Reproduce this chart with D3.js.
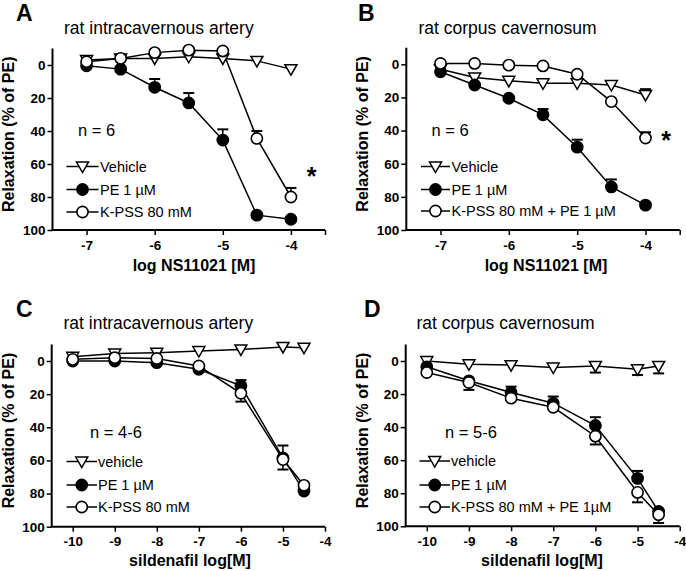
<!DOCTYPE html>
<html><head><meta charset="utf-8">
<script src="https://cdn.jsdelivr.net/npm/d3@7"></script>
<style>
html,body{margin:0;padding:0;background:#fff;}
text{font-family:Arial,"Liberation Sans",Helvetica,sans-serif;}
</style></head>
<body><svg id="c" width="686" height="571"></svg>
<script>
// ---------- data ----------
const nsDoses = [-7, -6.5, -6, -5.5, -5, -4.5, -4];
const sildDoses = [-10, -9, -8, -7, -6, -5, -4.5];
const nsTicks = [-7, -6, -5, -4];
const sildTicks = [-10, -9, -8, -7, -6, -5, -4];
const yTicks = [0, 20, 40, 60, 80, 100];

// Panel A: rat intracavernous artery, NS11021
const aVehicle = [-3, -4, -4, -5, -4, -2.5, 2.5];
const aVehicleErr = [0, 0, 0, 0, 0, 0, 0];
const aPE = [0.5, 2.5, 13.5, 23, 45.5, 91, 93.5];
const aPEErr = [0, 0, 5, 6, 6.5, 0, 0];
const aKPSS = [-2, -4, -7.5, -9, -8.5, 44.5, 80];
const aKPSSErr = [0, 0, 0, 0, 0, 4.5, 5.5];

// Panel B: rat corpus cavernosum, NS11021
const bVehicle = [3, 8, 10, 11.5, 11.5, 12.5, 18.5];
const bVehicleErr = [0, 0, 0, 0, 0, 0, 3.5];
const bPE = [4.5, 12.5, 20.5, 30.5, 50, 74, 85];
const bPEErr = [0, 0, 0, 3.5, 4.5, 4.5, 0];
const bKPSS = [-0.5, -0.5, 0.5, 1, 6, 22.5, 44.5];
const bKPSSErr = [0, 0, 0, 0, 0, 0, 3.5];

// Panel C: rat intracavernous artery, sildenafil
const cVehicle = [-2.5, -4.5, -5, -6, -7, -8.5, -8];
const cVehicleErr = [0, 2, 2, 0, 0, 0, 0];
const cPE = [0, 0, 1, 5, 15, 58.5, 78.5];
const cPEErr = [0, 0, 0, 0, 3.5, 7.5, 0];
const cKPSS = [-1, -2, -1.5, 3, 19.5, 59.5, 75];
const cKPSSErr = [0, 0, 0, 0, 5, 6, 0];

// Panel D: rat corpus cavernosum, sildenafil
const dVehicle = [0, 2, 2.5, 4, 3, 5, 3];
const dVehicleErr = [0, 0, 0, 0, 4, 3.5, 4.5];
const dPE = [3.5, 12, 19, 25.5, 39, 71, 91];
const dPEErr = [0, 0, 3.5, 4, 5, 4.5, 0];
const dKPSS = [7, 13, 22.5, 28, 45.5, 79.5, 93];
const dKPSSErr = [0, 4.5, 0, 0, 5, 6, 5];

const panelLetters = ["A", "B", "C", "D"];
const panelTitles = ["rat intracavernous artery", "rat corpus cavernosum", "rat intracavernous artery", "rat corpus cavernosum"];
const nLabels = ["n = 6", "n = 6", "n = 4-6", "n = 5-6"];
const xTitles = ["log NS11021 [M]", "log NS11021 [M]", "sildenafil log[M]", "sildenafil log[M]"];
const legendA = ["Vehicle", "PE 1 \u00b5M", "K-PSS 80 mM"];
const legendB = ["Vehicle", "PE 1  \u00b5M", "K-PSS 80 mM + PE 1 \u00b5M"];
const legendC = ["vehicle", "PE 1 \u00b5M", "K-PSS 80 mM"];
const legendD = ["vehicle", "PE 1 \u00b5M", "K-PSS 80 mM + PE 1\u00b5M"];
const yTitle = "Relaxation (% of PE)";

// ---------- layout ----------
const panels = [
  {letter:panelLetters[0], title:panelTitles[0], n:nLabels[0], xt:xTitles[0], legend:legendA,
   doses:nsDoses, ticks:nsTicks, xdom:[-7.5,-3.5], endTick:true,
   series:[[aVehicle,aVehicleErr,-1],[aPE,aPEErr,-1],[aKPSS,aKPSSErr,-1]],
   x0:52.5, x1:325, y0:65, y100:230, star:[311.5,173],
   lx:[66.5,98.5], tx:100, ly:[166.5,189.5,212], nx:78, ny:136, tix:64, letx:16, xtc:194},
  {letter:panelLetters[1], title:panelTitles[1], n:nLabels[1], xt:xTitles[1], legend:legendB,
   doses:nsDoses, ticks:nsTicks, xdom:[-7.5,-3.5], endTick:true,
   series:[[bVehicle,bVehicleErr,-1],[bPE,bPEErr,-1],[bKPSS,bKPSSErr,-1]],
   x0:406.3, x1:679.7, y0:64.3, y100:230, star:[666,137],
   lx:[421,450], tx:451.5, ly:[166.5,189.5,211], nx:431.5, ny:136, tix:418.5, letx:358, xtc:546},
  {letter:panelLetters[2], title:panelTitles[2], n:nLabels[2], xt:xTitles[2], legend:legendC,
   doses:sildDoses, ticks:sildTicks, xdom:[-10.5,-4], endTick:false,
   series:[[cVehicle,cVehicleErr,-1],[cPE,cPEErr,-1],[cKPSS,cKPSSErr,1]],
   x0:51.7, x1:325, y0:361, y100:526.7, star:null,
   lx:[66.5,97], tx:98, ly:[461.5,485,507], nx:90, ny:438, tix:63.5, letx:16, xtc:190},
  {letter:panelLetters[3], title:panelTitles[3], n:nLabels[3], xt:xTitles[3], legend:legendD,
   doses:sildDoses, ticks:sildTicks, xdom:[-10.5,-4], endTick:false,
   series:[[dVehicle,dVehicleErr,1],[dPE,dPEErr,-1],[dKPSS,dKPSSErr,1]],
   x0:405.7, x1:679.7, y0:361, y100:526.3, star:null,
   lx:[419.5,450], tx:451, ly:[461,485,507], nx:445, ny:438, tix:416.5, letx:364, xtc:542}
];
const letterY = [21, 21, 317, 317];
const titleY = [33.5, 33.5, 328.5, 328.5];
const xtitleY = [271, 271, 566, 566];

const svg = d3.select("#c");
const styles = ["tri", "filled", "open"];

function drawSymbol(g, type, cx, cy) {
  if (type === "tri") {
    g.append("path")
      .attr("d", `M${cx-6},${cy-4.5}L${cx+6},${cy-4.5}L${cx},${cy+6}Z`)
      .attr("fill", "#fff").attr("stroke", "#000").attr("stroke-width", 1.5);
  } else {
    g.append("circle").attr("cx", cx).attr("cy", cy).attr("r", 5.6)
      .attr("fill", type === "filled" ? "#000" : "#fff")
      .attr("stroke", "#000").attr("stroke-width", 1.6);
  }
}

panels.forEach((p, i) => {
  const g = svg.append("g");
  const x = d3.scaleLinear().domain(p.xdom).range([p.x0, p.x1]);
  const y = d3.scaleLinear().domain([0, 100]).range([p.y0, p.y100]);
  const yTop = y(-10), yBot = y(100);

  // y axis
  const ya = g.append("g").attr("transform", `translate(${p.x0},0)`)
    .call(d3.axisLeft(y).tickValues(yTicks).tickSize(5).tickSizeOuter(0).tickPadding(2));
  ya.select(".domain").attr("d", `M0,${yTop}V${yBot}`).attr("stroke-width", 2);
  ya.selectAll(".tick line").attr("stroke-width", 1.5);
  ya.selectAll("text").attr("font-size", 13.5).attr("font-weight", "bold").attr("fill", "#000")
    .style("font-family", "Arial, 'Liberation Sans', sans-serif");

  // x axis
  const tv = p.endTick ? p.ticks.concat([p.xdom[1]]) : p.ticks;
  const xa = g.append("g").attr("transform", `translate(0,${yBot})`)
    .call(d3.axisBottom(x).tickValues(tv).tickSize(5).tickSizeOuter(0).tickPadding(5)
      .tickFormat(d => p.ticks.includes(d) ? d3.format("d")(d) : ""));
  xa.select(".domain").attr("d", `M${p.x0 - 1},0H${p.x1}`).attr("stroke-width", 2);
  xa.selectAll(".tick line").attr("stroke-width", 1.5);
  xa.selectAll("text").attr("font-size", 13.5).attr("font-weight", "bold").attr("fill", "#000")
    .text(d => p.ticks.includes(d) ? String(d) : "")
    .style("font-family", "Arial, 'Liberation Sans', sans-serif");

  // series
  p.series.forEach((s) => {
    const vals = s[0], errs = s[1];
    const pts = p.doses.map((d, k) => [d, vals[k], errs[k]]);
    g.append("path").datum(pts)
      .attr("d", d3.line().x(d => x(d[0])).y(d => y(d[1])))
      .attr("fill", "none").attr("stroke", "#000").attr("stroke-width", 1.5);
  });
  p.series.forEach((s) => {
    const vals = s[0], errs = s[1], dir = s[2];
    p.doses.forEach((d, k) => {
      if (errs[k] > 0) {
        const cx = x(d), yv = y(vals[k]), ye = y(vals[k] + dir * errs[k]);
        g.append("line").attr("x1", cx).attr("x2", cx).attr("y1", yv).attr("y2", ye)
          .attr("stroke", "#000").attr("stroke-width", 1.5);
        g.append("line").attr("x1", cx - 5.5).attr("x2", cx + 5.5).attr("y1", ye).attr("y2", ye)
          .attr("stroke", "#000").attr("stroke-width", 2);
      }
    });
  });
  p.series.forEach((s, si) => {
    const vals = s[0];
    p.doses.forEach((d, k) => drawSymbol(g, styles[si], x(d), y(vals[k])));
  });

  // legend
  p.legend.forEach((t, li) => {
    const ly = p.ly[li];
    g.append("line").attr("x1", p.lx[0]).attr("x2", p.lx[1]).attr("y1", ly).attr("y2", ly)
      .attr("stroke", "#000").attr("stroke-width", 1.5);
    drawSymbol(g, styles[li], (p.lx[0] + p.lx[1]) / 2, ly);
    g.append("text").attr("x", p.tx).attr("y", ly + 5).attr("font-size", 14.5).text(t);
  });

  // texts
  g.append("text").attr("x", p.letx).attr("y", letterY[i]).attr("font-size", 23)
    .attr("font-weight", "bold").text(p.letter);
  g.append("text").attr("x", p.tix).attr("y", titleY[i]).attr("font-size", 17.5).text(p.title);
  g.append("text").attr("x", p.nx).attr("y", p.ny).attr("font-size", 16.5).text(p.n);
  g.append("text").attr("x", p.xtc).attr("y", xtitleY[i]).attr("font-size", 16)
    .attr("font-weight", "bold").attr("text-anchor", "middle").text(p.xt);
  const ycen = (yTop + yBot) / 2 - 5;
  g.append("text").attr("transform", `translate(${i % 2 === 0 ? 14 : 367.5},${ycen}) rotate(-90)`)
    .attr("font-size", 16).attr("font-weight", "bold").attr("text-anchor", "middle").text(yTitle);
  if (p.star) {
    g.append("text").attr("x", p.star[0]).attr("y", p.star[1] + 12).attr("font-size", 25)
      .attr("font-weight", "bold").attr("text-anchor", "middle").text("*");
  }
});
</script></body></html>
